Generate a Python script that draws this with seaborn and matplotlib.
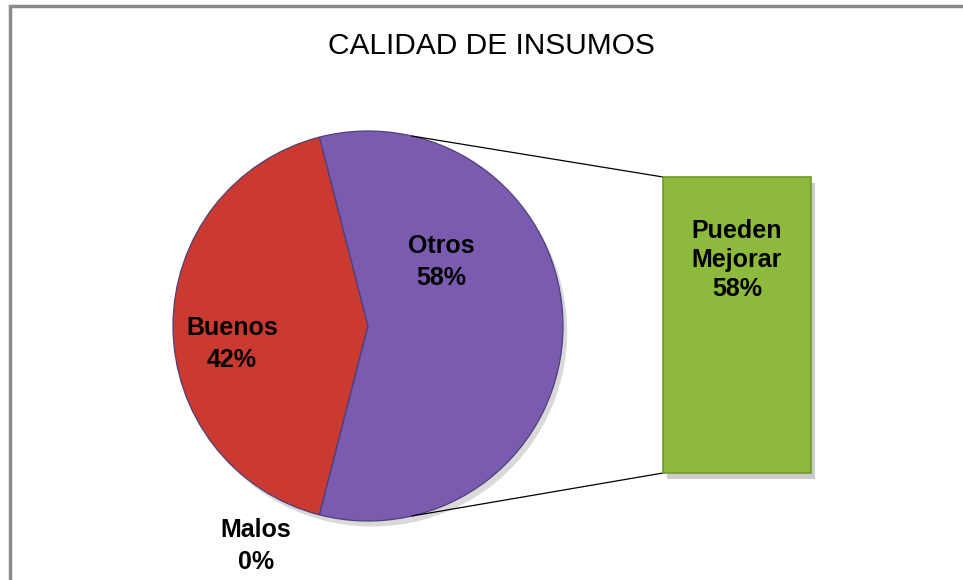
import numpy as np
import matplotlib
matplotlib.use("Agg")
import matplotlib.pyplot as plt
import matplotlib.patheffects as pe
import seaborn as sns
import pandas as pd

# ---- data ----
title = "CALIDAD DE INSUMOS"
pie_labels = ["Buenos", "Malos", "Otros"]
pie_values = [42, 0, 58]
bar_labels = ["Pueden Mejorar"]
bar_values = [58]

# ---- style ----
sns.set_theme(style="white")
plt.rcParams['font.family'] = ['Liberation Sans', 'DejaVu Sans']

RED = "#CB3A31"
PURPLE = "#7A5BB0"
GREEN = "#8DB93C"

W, H = 963, 580
fig = plt.figure(figsize=(W / 100, H / 100), dpi=100, facecolor="white")
ax = fig.add_axes([0, 0, 1, 1])

# pie geometry (pixel units, y up)
cx, cy, r = 368, H - 326, 195
start = 180 - pie_values[0] / sum(pie_values) * 360 / 2
wedges, _ = ax.pie(pie_values, colors=[RED, GREEN, PURPLE], startangle=start,
                   counterclock=True, center=(cx, cy), radius=r,
                   wedgeprops=dict(edgecolor="#4e3f7a", linewidth=0.9))
for w in wedges:
    w.set_path_effects([pe.SimplePatchShadow(offset=(3, -4), alpha=0.22, shadow_rgbFace="#555555"),
                        pe.Normal()])

ax.set_xlim(0, W)
ax.set_ylim(0, H)
ax.set_aspect('equal')
ax.axis('off')

# frame (top and left visible)
ax.plot([10, 10, W + 5], [-5, H - 6, H - 6], color="#8a8a8a", lw=2.5,
        solid_joinstyle="miter", clip_on=False)

# title
ax.text(491, H - 46, title, ha="center", va="center", fontsize=21.5, color="black")

# pie labels
lab_kw = dict(ha="center", va="center", fontsize=18, fontweight="bold",
              color="black", linespacing=1.4)
ax.text(232, H - 344, f"{pie_labels[0]}\n{pie_values[0]}%", **lab_kw)
ax.text(441, H - 262, f"{pie_labels[2]}\n{pie_values[2]}%", **lab_kw)
ax.text(256, H - 546, f"{pie_labels[1]}\n{pie_values[1]}%", **lab_kw)

# bar of pie
bx0, bx1, by0, by1 = 663, 811, 177, 473
bax = fig.add_axes([bx0 / W, (H - by1) / H, (bx1 - bx0) / W, (by1 - by0) / H])
df = pd.DataFrame({"cat": bar_labels, "val": bar_values})
sns.barplot(data=df, x="cat", y="val", color=GREEN, saturation=1, width=1,
            ax=bax, edgecolor="#6f9a2a", linewidth=1.2)
bax.set_xlim(-0.5, 0.5)
bax.set_ylim(0, bar_values[0])
bax.axis('off')
for p in bax.patches:
    p.set_clip_on(False)
    p.set_path_effects([pe.SimplePatchShadow(offset=(3, -4), alpha=0.3, shadow_rgbFace="#555555"),
                        pe.Normal()])
bax.text(0, bar_values[0] * 0.72, "Pueden\nMejorar\n" + f"{bar_values[0]}%",
         ha="center", va="center", fontsize=18, fontweight="bold",
         color="black", linespacing=1.25)

# connector lines from pie edge to bar corners
ang = np.deg2rad(77)
ax.plot([cx + r * np.cos(ang), bx0], [cy + r * np.sin(ang), H - by0], color="black", lw=0.9)
ax.plot([cx + r * np.cos(-ang), bx0], [cy + r * np.sin(-ang), H - by1], color="black", lw=0.9)

fig.savefig("out.png", dpi=100, facecolor="white")
